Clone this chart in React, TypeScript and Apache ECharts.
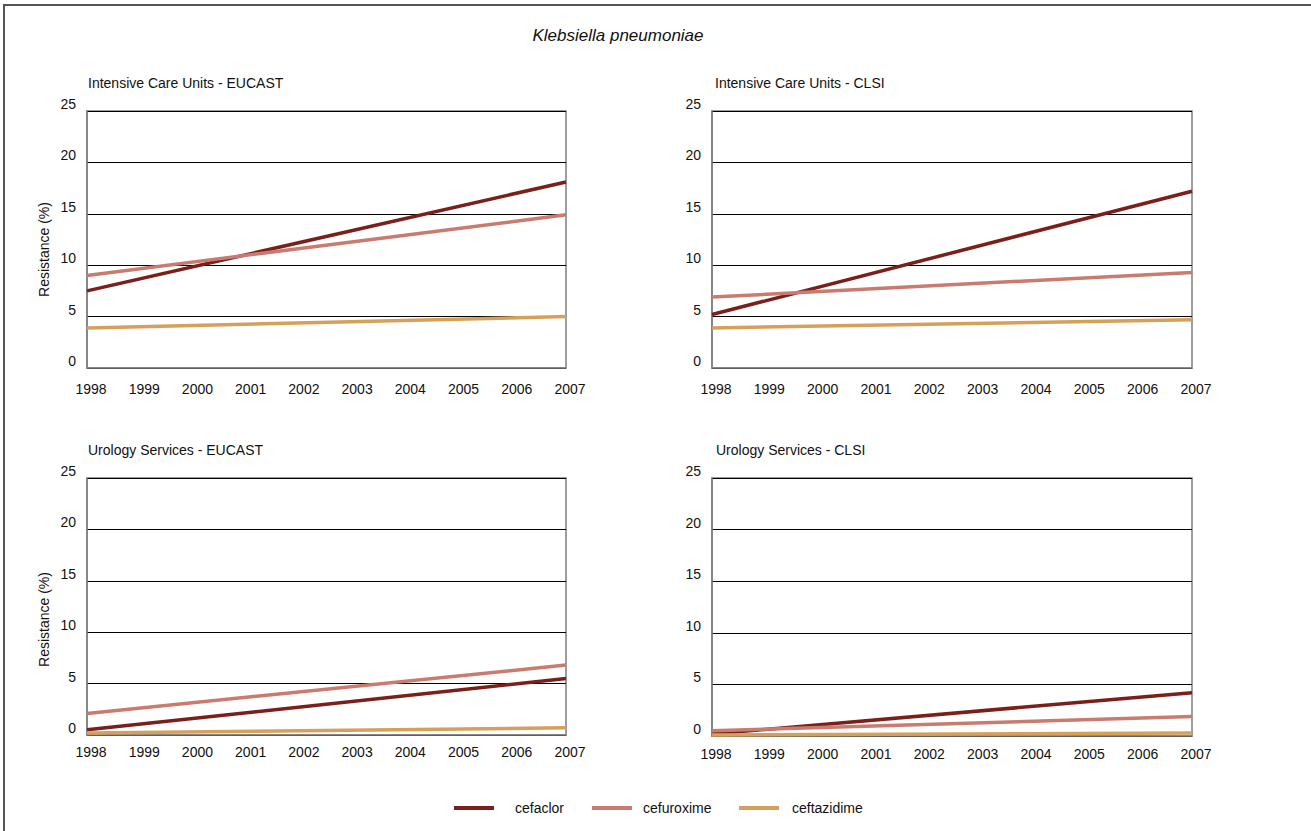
import React, { useEffect, useRef } from "react";
import * as echarts from "echarts";

const years = [1998, 2007];
const yearTicks = [1998, 1999, 2000, 2001, 2002, 2003, 2004, 2005, 2006, 2007];
const drugs = ["cefaclor", "cefuroxime", "ceftazidime"];
const drugColors = ["#7A1F1A", "#C97B70", "#D7A05A"];
const panelTitles = [
  "Intensive Care Units - EUCAST",
  "Intensive Care Units - CLSI",
  "Urology Services - EUCAST",
  "Urology Services - CLSI",
];

// values at 1998 and 2007 (trend lines)
const icuEucastCefaclor = [7.5, 18.1];
const icuEucastCefuroxime = [9.0, 14.9];
const icuEucastCeftazidime = [3.9, 5.0];
const icuClsiCefaclor = [5.2, 17.2];
const icuClsiCefuroxime = [6.9, 9.3];
const icuClsiCeftazidime = [3.9, 4.7];
const uroEucastCefaclor = [0.5, 5.5];
const uroEucastCefuroxime = [2.1, 6.8];
const uroEucastCeftazidime = [0.2, 0.7];
const uroClsiCefaclor = [0.2, 4.2];
const uroClsiCefuroxime = [0.5, 1.9];
const uroClsiCeftazidime = [0.1, 0.3];

const panelData = [
  [icuEucastCefaclor, icuEucastCefuroxime, icuEucastCeftazidime],
  [icuClsiCefaclor, icuClsiCefuroxime, icuClsiCeftazidime],
  [uroEucastCefaclor, uroEucastCefuroxime, uroEucastCeftazidime],
  [uroClsiCefaclor, uroClsiCefuroxime, uroClsiCeftazidime],
];

const FONT = "'Liberation Sans Narrow', 'Arial Narrow', 'Liberation Sans', Arial, sans-serif";

export default function App() {
  const ref = useRef<HTMLDivElement>(null);
  useEffect(() => {
    if (!ref.current) return;
    const chart = echarts.init(ref.current, undefined, { renderer: "svg" });
    const grids = [
      { left: 87, top: 111, width: 479, height: 257 },
      { left: 712, top: 111, width: 480, height: 257 },
      { left: 87, top: 478, width: 479, height: 257 },
      { left: 712, top: 478, width: 480, height: 258 },
    ];
    const titlePos = [
      { left: 88, top: 76 },
      { left: 715, top: 76 },
      { left: 88, top: 443 },
      { left: 716, top: 443 },
    ];
    const xLabelMargin = [14, 14, 10, 11];
    const nameShift = [20, 0, 26, 0];
    const series: any[] = [];
    panelData.forEach((pd, p) => {
      pd.forEach((vals, d) => {
        series.push({
          type: "line",
          name: drugs[d],
          xAxisIndex: p,
          yAxisIndex: p,
          data: years.map((y, i) => [y, vals[i]]),
          showSymbol: false,
          symbol: "none",
          lineStyle: { color: drugColors[d], width: 3.5 },
          itemStyle: { color: drugColors[d] },
          z: 3,
        });
      });
    });
    const legendLeft = [454, 592, 739];
    const legendTextPad = [16, 6, 8];
    const option: any = {
      animation: false,
      backgroundColor: "#fff",
      title: [
        {
          text: "Klebsiella pneumoniae",
          left: 618,
          top: 27,
          padding: 0,
          textAlign: "center",
          textStyle: { fontFamily: "'Liberation Sans', Arial, sans-serif", fontStyle: "italic", fontWeight: "normal", fontSize: 17, color: "#111" },
        },
        ...panelTitles.map((t, i) => ({
          text: t,
          left: titlePos[i].left,
          top: titlePos[i].top,
          padding: 0,
          textStyle: { fontFamily: FONT, fontWeight: "normal", fontSize: 14, color: "#111" },
        })),
      ],
      legend: drugs.map((d, i) => ({
        data: [d],
        left: legendLeft[i],
        top: 801,
        padding: 0,
        itemWidth: 40,
        itemHeight: 4,
        icon: "rect",
        selectedMode: false,
        textStyle: { fontFamily: FONT, fontSize: 14, color: "#111", padding: [0, 0, 0, legendTextPad[i]] },
      })),
      grid: grids.map((g) => ({
        ...g,
        show: true,
        borderColor: "#7f7f7f",
        borderWidth: 1.5,
        backgroundColor: "transparent",
        containLabel: false,
      })),
      xAxis: grids.map((_, i) => ({
        type: "value",
        gridIndex: i,
        min: 1998,
        max: 2007,
        interval: 1,
        axisLine: { show: true, lineStyle: { color: "#7f7f7f", width: 1.5 } },
        axisTick: { show: false },
        splitLine: { show: false },
        axisLabel: {
          margin: xLabelMargin[i],
          fontFamily: FONT,
          fontSize: 14,
          color: "#111",
          padding: [0, 0, 0, 8],
          formatter: (v: number) => (yearTicks.includes(v) ? String(v) : ""),
        },
      })),
      yAxis: grids.map((_, i) => ({
        type: "value",
        gridIndex: i,
        min: 0,
        max: 25,
        interval: 5,
        name: i % 2 === 0 ? "Resistance (%)" : "",
        nameLocation: "middle",
        nameGap: 36,
        nameTextStyle: { fontFamily: FONT, fontSize: 14, color: "#111", padding: [0, nameShift[i], 0, 0] },
        axisLine: { show: true, lineStyle: { color: "#7f7f7f", width: 1.5 } },
        axisTick: { show: false },
        splitLine: { show: true, lineStyle: { color: "#000", width: 1 } },
        axisLabel: {
          margin: 11,
          fontFamily: FONT,
          fontSize: 14,
          color: "#111",
          verticalAlign: "bottom",
        },
      })),
      series,
      graphic: [
        {
          type: "polyline",
          shape: { points: [[4, 831], [4, 5], [1311, 5]] },
          style: { stroke: "#555", lineWidth: 2, fill: "none" },
          silent: true,
        },
      ],
    };
    chart.setOption(option);
    return () => chart.dispose();
  }, []);
  return (
    <div
      ref={ref}
      style={{ position: "fixed", left: 0, top: 0, width: 1311, height: 831, background: "#fff" }}
    />
  );
}
